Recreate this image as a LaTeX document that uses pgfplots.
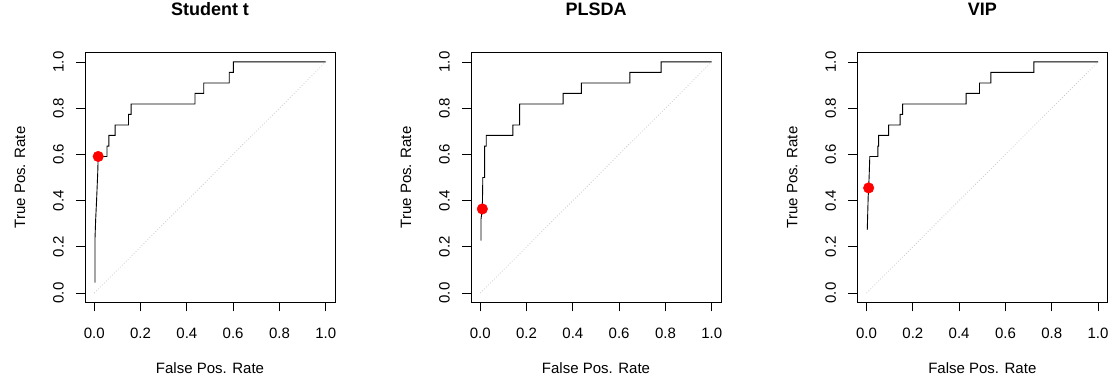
\documentclass[border=0pt]{standalone}
\usepackage{fontspec}
\setmainfont{Liberation Sans}
\usepackage{pgfplots}
\pgfplotsset{compat=1.18}
\pgfplotsset{rocax/.style={
  scale only axis, width=250bp, height=249.6bp,
  xmin=-0.04, xmax=1.04, ymin=-0.04, ymax=1.04,
  xtick={0,0.2,0.4,0.6,0.8,1}, ytick={0,0.2,0.4,0.6,0.8,1},
  tick align=outside, xtick pos=left, ytick pos=left,
  major tick length=9bp,
  tick style={black, line width=0.8bp},
  axis line style={line width=0.8bp},
  ticklabel style={font=\fontsize{15bp}{18bp}\selectfont, inner sep=0pt},
  xticklabel style={anchor=north, yshift=-17bp},
  yticklabel style={xshift=-12bp, rotate=90, anchor=south},
  xticklabel={\pgfmathprintnumber[fixed,fixed zerofill,precision=1,assume math mode=true]{\tick}},
  yticklabel={\pgfmathprintnumber[fixed,fixed zerofill,precision=1,assume math mode=true]{\tick}},
  label style={font=\fontsize{15bp}{18bp}\selectfont, inner sep=0pt},
  xlabel={False Pos. Rate}, ylabel={True Pos. Rate},
  xlabel style={at={(axis description cs:0.5,0)}, anchor=base, yshift=-71bp},
  ylabel style={at={([xshift=-60bp]axis description cs:0,0.5)}, anchor=base},
  title style={at={(axis description cs:0.5,1)}, anchor=base, yshift=31bp, inner sep=0pt, font=\bfseries\fontsize{18bp}{21bp}\selectfont},
  clip=false,
}}
\begin{document}
\begin{tikzpicture}
\path[use as bounding box] (0bp,0bp) rectangle (1110bp,379bp);
% Panel 1
\begin{axis}[rocax, at={(85bp,76.7bp)}, anchor=south west, title={Student t}]
\addplot[gray!45, dotted, line width=0.8bp] coordinates {(0,0) (1,1)};
\addplot[black, line width=0.9bp] coordinates {
(0.003,0.045) (0.003,0.23) (0.006,0.316) (0.010,0.40) (0.015,0.52) (0.017,0.591)
(0.055,0.591) (0.055,0.636) (0.063,0.636) (0.063,0.682) (0.090,0.682) (0.090,0.727)
(0.148,0.727) (0.148,0.773) (0.159,0.773) (0.159,0.818) (0.435,0.818) (0.435,0.864)
(0.473,0.864) (0.473,0.909) (0.583,0.909) (0.583,0.955) (0.601,0.955) (0.601,1.0) (1.0,1.0)};
\addplot[only marks, mark=*, mark size=5.3bp, mark options={draw=red, fill=red}] coordinates {(0.017,0.591)};
\end{axis}
% Panel 2
\begin{axis}[rocax, at={(471bp,76.7bp)}, anchor=south west, title={PLSDA}]
\addplot[gray!45, dotted, line width=0.8bp] coordinates {(0,0) (1,1)};
\addplot[black, line width=0.9bp] coordinates {
(0.003,0.227) (0.003,0.318) (0.009,0.364) (0.011,0.5) (0.019,0.5) (0.019,0.636)
(0.026,0.636) (0.026,0.682) (0.141,0.682) (0.141,0.727) (0.170,0.727) (0.170,0.818)
(0.358,0.818) (0.358,0.864) (0.437,0.864) (0.437,0.909) (0.646,0.909) (0.646,0.955)
(0.781,0.955) (0.781,1.0) (1.0,1.0)};
\addplot[only marks, mark=*, mark size=5.3bp, mark options={draw=red, fill=red}] coordinates {(0.009,0.364)};
\end{axis}
% Panel 3
\begin{axis}[rocax, at={(857.3bp,76.7bp)}, anchor=south west, title={VIP}]
\addplot[gray!45, dotted, line width=0.8bp] coordinates {(0,0) (1,1)};
\addplot[black, line width=0.9bp] coordinates {
(0.003,0.273) (0.007,0.417) (0.009,0.455) (0.011,0.5) (0.014,0.591) (0.049,0.591)
(0.049,0.636) (0.052,0.636) (0.052,0.682) (0.095,0.682) (0.095,0.727) (0.145,0.727)
(0.145,0.773) (0.156,0.773) (0.156,0.818) (0.430,0.818) (0.430,0.864) (0.488,0.864)
(0.488,0.909) (0.537,0.909) (0.537,0.955) (0.723,0.955) (0.723,1.0) (1.0,1.0)};
\addplot[only marks, mark=*, mark size=5.3bp, mark options={draw=red, fill=red}] coordinates {(0.009,0.455)};
\end{axis}
\end{tikzpicture}
\end{document}
